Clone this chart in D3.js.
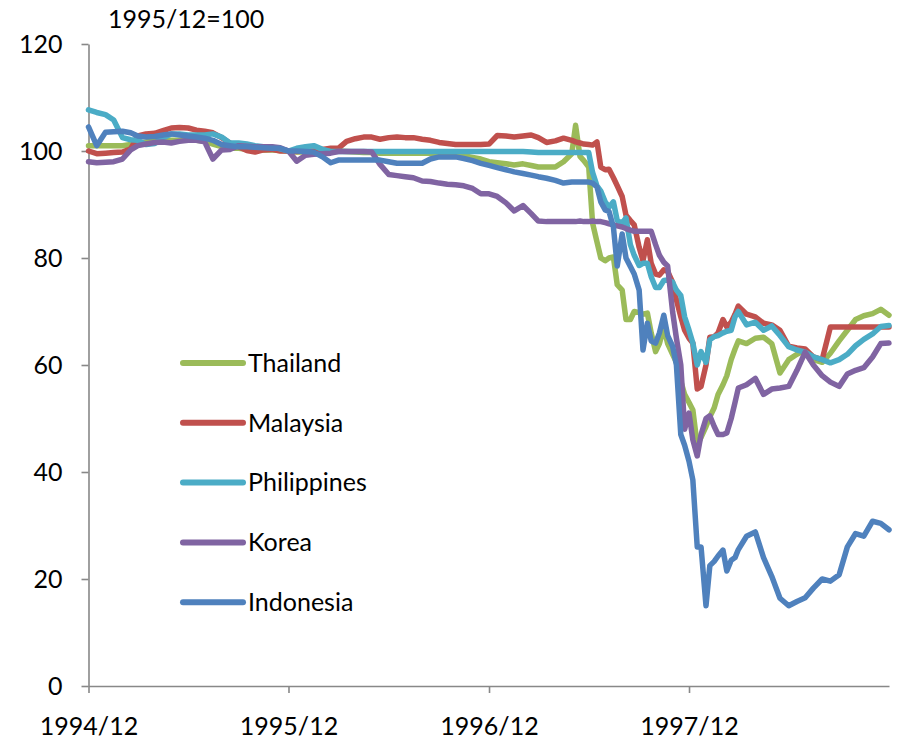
<!DOCTYPE html>
<html>
<head>
<meta charset="utf-8">
<script src="https://cdn.jsdelivr.net/npm/d3@7/dist/d3.min.js"></script>
<style>
    body { margin: 0; background: #fff; }
    text { font-family: Lato, "Open Sans", sans-serif; fill: #000; }
</style>
</head>
<body>
<script>
const w = 921
const h = 750

// semi-monthly, then weekly through the crisis, then semi-monthly again
const dates = [
    "1994-12-01", "1994-12-16",
    "1995-01-01", "1995-01-16", "1995-02-01", "1995-02-16", "1995-03-01", "1995-03-16",
    "1995-04-01", "1995-04-16", "1995-05-01", "1995-05-16", "1995-06-01", "1995-06-16",
    "1995-07-01", "1995-07-16", "1995-08-01", "1995-08-16", "1995-09-01", "1995-09-16",
    "1995-10-01", "1995-10-16", "1995-11-01", "1995-11-16", "1995-12-01", "1995-12-16",
    "1996-01-01", "1996-01-16", "1996-02-01", "1996-02-16", "1996-03-01", "1996-03-16",
    "1996-04-01", "1996-04-16", "1996-05-01", "1996-05-16", "1996-06-01", "1996-06-16",
    "1996-07-01", "1996-07-16", "1996-08-01", "1996-08-16", "1996-09-01", "1996-09-16",
    "1996-10-01", "1996-10-16", "1996-11-01", "1996-11-16", "1996-12-01", "1996-12-16",
    "1997-01-01", "1997-01-16", "1997-02-01", "1997-02-16", "1997-03-01", "1997-03-16",
    "1997-04-01", "1997-04-16",
    "1997-05-01", "1997-05-08", "1997-05-16", "1997-05-23",
    "1997-06-01", "1997-06-08", "1997-06-16", "1997-06-23",
    "1997-07-01", "1997-07-08", "1997-07-16", "1997-07-23",
    "1997-08-01", "1997-08-08", "1997-08-16", "1997-08-23",
    "1997-09-01", "1997-09-08", "1997-09-16", "1997-09-23",
    "1997-10-01", "1997-10-08", "1997-10-16", "1997-10-23",
    "1997-11-01", "1997-11-08", "1997-11-16", "1997-11-23",
    "1997-12-01", "1997-12-08", "1997-12-16", "1997-12-23",
    "1998-01-01", "1998-01-08", "1998-01-16", "1998-01-23",
    "1998-02-01", "1998-02-08", "1998-02-16", "1998-02-23",
    "1998-03-01", "1998-03-16", "1998-04-01", "1998-04-16", "1998-05-01", "1998-05-16",
    "1998-06-01", "1998-06-16", "1998-07-01", "1998-07-16", "1998-08-01", "1998-08-16",
    "1998-09-01", "1998-09-16", "1998-10-01", "1998-10-16", "1998-11-01", "1998-11-16",
    "1998-12-01"
]

const thailand = [
    101, 101, 101, 101, 101, 101.2, 101.5, 101.7, 102, 102,
    102, 102, 102, 102, 101.8, 101.3, 100.8, 100.5, 100.5, 100.3,
    100.3, 100.2, 100.2, 100.1, 100, 99.8, 99.8, 99.8, 99.9, 100,
    100, 99.9, 99.8, 99.7, 99.7, 99.6, 99.6, 99.6, 99.6, 99.6,
    99.6, 99.6, 99.6, 99.6, 99.6, 99.1, 98.8, 98.5, 98, 97.8,
    97.6, 97.4, 97.6, 97.3, 97, 97, 97, 98,
    99.5, 104.8, 99, 98.2, 97, 86.5, 83, 80, 79.5, 80,
    80.2, 75, 74, 68.5, 68.5, 70, 69.8, 69.5, 69.7, 66,
    62.5, 64, 67, 64, 62, 60.5, 57, 54.5, 53, 51.6,
    45, 46.5, 48.5, 50.3, 52, 54.5, 56.3, 58, 61, 63,
    64.5, 64, 65, 65.2, 64, 58.5, 61, 62, 62.8, 61,
    60.5, 62.2, 64.5, 66.5, 68.5, 69.2, 69.6, 70.4, 69.3
]

const malaysia = [
    100, 99.5, 99.6, 99.7, 99.8, 100.4, 102.8, 103.2, 103.3, 103.8,
    104.3, 104.4, 104.3, 103.9, 103.7, 103.4, 102.5, 101.5, 100.8, 100.1,
    99.8, 100.2, 100.3, 100, 100, 99.9, 100, 100, 100.3, 100.5,
    100.5, 101.8, 102.3, 102.6, 102.6, 102.2, 102.5, 102.6, 102.5, 102.5,
    102.2, 102, 101.6, 101.4, 101.2, 101.2, 101.2, 101.2, 101.3, 102.9,
    102.8, 102.6, 102.8, 103, 102.5, 101.6, 101.9, 102.4,
    102, 101.7, 101.5, 101.3, 101.2, 101.1, 101.7, 97, 96.5, 96.6,
    95, 93.5, 91.5, 88, 87, 86.2, 82, 79.5, 83.4, 79,
    77, 76.8, 77.8, 77.5, 75.5, 72.2, 69, 66.5, 65, 64.1,
    55.5, 56, 60, 65.2, 65.3, 66, 68.5, 67.1, 68, 69.5,
    71, 69.5, 69, 67.8, 67.5, 66.5, 63.5, 63.2, 63, 61.5,
    61, 67.1, 67.1, 67.1, 67.1, 67.1, 67.1, 67.1, 67.1
]

const philippines = [
    107.7, 107.2, 106.8, 105.8, 102.5, 102.1, 102, 101.2, 101.4, 102.5,
    103.2, 103.2, 103, 103, 103, 103.2, 102.6, 101.5, 101.5, 101.3,
    101, 100.8, 100.7, 100.4, 100, 100.5, 100.8, 101, 100.3, 99.9,
    99.9, 99.9, 99.9, 99.9, 99.9, 99.9, 99.9, 99.9, 99.9, 99.9,
    99.9, 99.9, 99.9, 99.9, 99.9, 99.9, 99.9, 99.9, 99.9, 99.9,
    99.9, 99.9, 99.9, 99.8, 99.7, 99.7, 99.7, 99.7,
    99.7, 99.7, 99.7, 99.7, 99.7, 96, 93.5, 92.5, 90.5, 89.5,
    90.5, 87, 86.5, 87.5, 82.5, 80.5, 78.6, 79, 79, 76.5,
    74.5, 74.5, 75.8, 75.9, 75.5, 74, 73, 69, 66.5, 64.1,
    60, 62.5, 60.5, 64.7, 65.3, 65.5, 66, 66.3, 66.5, 69,
    70, 67.5, 68, 66.5, 67.3, 65.5, 63.4, 62.8, 62.4, 61.5,
    61, 60.4, 61, 62, 63.6, 64.8, 65.8, 67.2, 67.4
]

const korea = [
    98, 97.8, 97.9, 98, 98.5, 100.2, 101, 101.3, 101.6, 101.7,
    101.5, 101.8, 102, 102, 101.7, 98.5, 100.2, 100.3, 101, 100.9,
    100.8, 100.8, 100.8, 100.6, 100, 98.1, 99.2, 99.4, 99.5, 99.6,
    99.9, 99.9, 99.9, 99.9, 99.8, 97.5, 95.6, 95.4, 95.2, 95,
    94.4, 94.3, 94, 93.8, 93.7, 93.5, 93, 92, 92, 91.5,
    90.3, 88.8, 89.8, 88.3, 86.9, 86.8, 86.8, 86.8,
    86.8, 86.8, 86.9, 86.8, 86.8, 86.9, 86.8, 86.8, 86.6, 86.4,
    86.2, 86, 85.8, 85.5, 85.2, 85, 85, 85, 85, 85,
    82.5, 80.5, 79.2, 78.5, 70, 65, 60, 48, 51, 46,
    43, 47, 50, 50.5, 48.5, 47, 47, 47.3, 50, 53,
    55.7, 56.3, 57.5, 54.5, 55.5, 55.7, 56, 59, 62.4, 60,
    58, 56.8, 56, 58.3, 59, 59.5, 61.5, 64, 64.1
]

const indonesia = [
    104.5, 101, 103.5, 103.6, 103.7, 103.4, 102.8, 102.6, 102.7, 103,
    103.2, 103, 102.8, 102.6, 102.4, 102, 101.2, 101, 100.8, 100.8,
    100.7, 100.6, 100.5, 100.5, 100, 100, 99.9, 99.8, 98.9, 97.8,
    98.3, 98.3, 98.3, 98.3, 98.3, 98.3, 98, 97.7, 97.7, 97.7,
    97.7, 98.5, 98.9, 98.9, 98.9, 98.6, 98.2, 97.7, 97.3, 96.9,
    96.5, 96.1, 95.8, 95.5, 95.2, 94.9, 94.5, 94,
    94.2, 94.2, 94.2, 94.2, 94.2, 94, 93.3, 90.5, 89, 88.7,
    85.8, 78.5, 84.5, 80, 78.4, 77, 74, 62.8, 67.8, 64.5,
    64.1, 66, 69.3, 65.5, 63.5, 60, 47, 45, 42, 38.5,
    26, 26, 15, 22.5, 23.3, 24.3, 25.4, 21.5, 23.5, 24,
    25.5, 28, 28.8, 24, 20.5, 16.4, 15, 15.8, 16.5, 18.3,
    20, 19.6, 20.8, 26, 28.5, 28, 30.8, 30.4, 29.2
]

const seriesNames = ["Thailand", "Malaysia", "Philippines", "Korea", "Indonesia"]
const seriesValues = [thailand, malaysia, philippines, korea, indonesia]
const colors = ["#9bbb59", "#c0504d", "#4bacc6", "#8064a2", "#4f81bd"]

const yTicks = [0, 20, 40, 60, 80, 100, 120]
const xTicks = ["1994-12-01", "1995-12-01", "1996-12-01", "1997-12-01"]
const unitLabel = "1995/12=100"

const parse = d3.timeParse("%Y-%m-%d")
const fmt = d3.timeFormat("%Y/%m")

const svg = d3.select('body')
    .append('svg')
    .attr('width', w)
    .attr('height', h)

const x = d3.scaleTime()
    .domain([parse("1994-12-01"), parse("1998-12-01")])
    .range([88.5, 889])

const y = d3.scaleLinear()
    .domain([0, 120])
    .range([686, 44])

// axes
svg.append("g")
    .attr("transform", "translate(88.5,0)")
    .call(d3.axisLeft(y).tickValues(yTicks).tickSize(7).tickSizeOuter(0).tickPadding(19))

svg.append("g")
    .attr("transform", "translate(0,686)")
    .call(d3.axisBottom(x).tickValues(xTicks.map(parse)).tickFormat(fmt)
        .tickSize(7).tickSizeOuter(0).tickPadding(24))

svg.selectAll(".domain, .tick line")
    .attr("stroke", "#888")
    .attr("stroke-width", 1.6)

svg.selectAll(".tick text")
    .style("font-size", "25px")
    .style("font-family", "Lato, 'Open Sans', sans-serif")
    .attr("fill", "#000")

svg.append("text")
    .attr("x", 108)
    .attr("y", 28)
    .style("font-size", "25px")
    .text(unitLabel)

// lines, drawn in legend order so Indonesia ends on top
const line = d3.line()
    .x((d, i) => x(parse(dates[i])))
    .y(d => y(d))

seriesValues.forEach((vals, k) => {
    svg.append("path")
        .datum(vals)
        .attr("d", line)
        .attr("fill", "none")
        .attr("stroke", colors[k])
        .attr("stroke-width", 5.5)
        .attr("stroke-linejoin", "round")
        .attr("stroke-linecap", "round")
})

// legend
const legend = svg.append("g")
seriesNames.forEach((name, k) => {
    let ly = 363 + k * 59.8
    legend.append("line")
        .attr("x1", 183)
        .attr("x2", 243)
        .attr("y1", ly)
        .attr("y2", ly)
        .attr("stroke", colors[k])
        .attr("stroke-width", 6)
        .attr("stroke-linecap", "round")
    legend.append("text")
        .attr("x", 248)
        .attr("y", ly)
        .attr("dy", "0.35em")
        .style("font-size", "25px")
        .text(name)
})
</script>
</body>
</html>
